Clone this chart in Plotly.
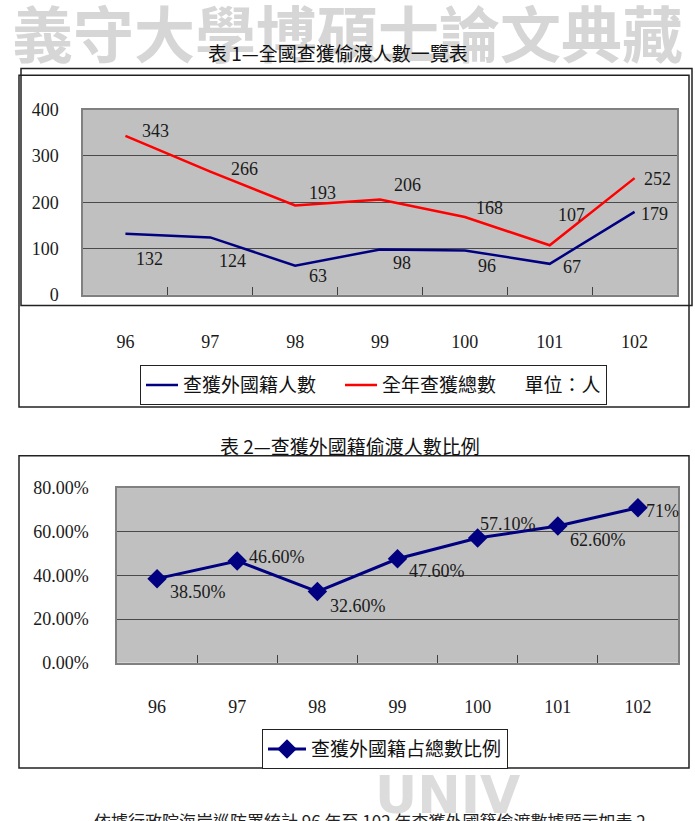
import plotly.graph_objects as go

# ---------------- data ----------------
years = ["96", "97", "98", "99", "100", "101", "102"]
foreign_count = [132, 124, 63, 98, 96, 67, 179]
total_count = [343, 266, 193, 206, 168, 107, 252]
ratio = [0.385, 0.466, 0.326, 0.476, 0.571, 0.626, 0.71]
ratio_labels = ["38.50%", "46.60%", "32.60%", "47.60%", "57.10%", "62.60%", "71%"]

title1 = "表 1—全國查獲偷渡人數一覽表"
title2 = "表 2—查獲外國籍偷渡人數比例"
name_foreign = "查獲外國籍人數\u3000"
name_total = "全年查獲總數\u3000\u2002單位：人"
name_ratio = "查獲外國籍占總數比例"
watermark = "義守大學博碩士論文典藏"
watermark2 = "UNIV"
body_text = "依據行政院海岸巡防署統計 96 年至 102 年查獲外國籍偷渡數據顯示如表 2"

# ---------------- styling ----------------
W, H = 695, 821
NAVY = "#000080"
RED = "#FF0000"
SERIF = "Liberation Serif"
CJK = "Noto Sans CJK TC"
LBL = "#1a1a1a"

def px(x):
    return x / W

def py(y):
    return 1 - y / H

# label offsets (screen px): (dx, dy) with dy positive downward
off_total = [(30, -5), (34, -3), (27, -12), (27, -14), (25, -9), (22, -30), (23, 1)]
off_foreign = [(24, 25), (22, 24), (23, 10), (22, 14), (22, 16), (22, 3), (20, 2)]
off_ratio = [(41, 13), (40, -4), (41, 14), (39, 12), (30, -14), (40, 14), (25, 3)]

fig = go.Figure()

fig.add_trace(go.Scatter(
    x=years, y=foreign_count, mode="lines", name=name_foreign,
    line=dict(color=NAVY, width=2.5), xaxis="x", yaxis="y", legend="legend",
))
fig.add_trace(go.Scatter(
    x=years, y=total_count, mode="lines", name=name_total,
    line=dict(color=RED, width=2.5), xaxis="x", yaxis="y", legend="legend",
))
fig.add_trace(go.Scatter(
    x=years, y=ratio, mode="lines+markers", name=name_ratio,
    line=dict(color=NAVY, width=3),
    marker=dict(symbol="diamond", size=15, color=NAVY),
    xaxis="x2", yaxis="y2", legend="legend2",
))

# page text (watermarks first so other text sits on top)
page = dict(xref="paper", yref="paper", showarrow=False, xanchor="center", yanchor="middle")
annotations = [
    dict(page, x=px(348), y=py(22), text=watermark,
         font=dict(family=CJK, size=61, color="#d6d6d6", weight="bold")),
    dict(page, x=px(448), y=py(805), text=watermark2,
         font=dict(family="DejaVu Sans", size=52, color="#dcdcdc", weight="bold")),
    dict(page, x=px(338), y=py(44), text=title1,
         font=dict(family=CJK, size=19, color="#111")),
    dict(page, x=px(350), y=py(446), text=title2,
         font=dict(family=CJK, size=19, color="#111")),
    dict(page, x=px(370), y=py(831), text=body_text,
         font=dict(family=CJK, size=17, color="#222")),
]

for ys, texts, offs, xr, yr in [
    (total_count, [str(v) for v in total_count], off_total, "x", "y"),
    (foreign_count, [str(v) for v in foreign_count], off_foreign, "x", "y"),
    (ratio, ratio_labels, off_ratio, "x2", "y2"),
]:
    for i, (yv, t, (dx, dy)) in enumerate(zip(ys, texts, offs)):
        annotations.append(dict(
            x=i, y=yv, xref=xr, yref=yr, text=t, showarrow=False,
            xanchor="center", yanchor="middle",
            xshift=dx, yshift=-dy, font=dict(family=SERIF, size=18, color=LBL),
        ))

# frames
box = dict(type="rect", xref="paper", yref="paper", line=dict(color="#222", width=1.5),
           fillcolor="rgba(0,0,0,0)")
shapes = [
    dict(box, x0=px(21), x1=px(692), y0=py(60), y1=py(303)),
    dict(box, x0=px(19), x1=px(689), y0=py(67), y1=py(407)),
    dict(box, x0=px(19), x1=px(689), y0=py(457), y1=py(777)),
]

tickfont = dict(family=SERIF, size=18, color=LBL)
xcommon = dict(type="category", tickson="boundaries", ticks="inside", ticklen=8,
               tickcolor="#404040", showgrid=False, showline=True, linecolor="#808080",
               linewidth=1.5, mirror=True, tickfont=tickfont, fixedrange=True,
               range=[-0.5, len(years) - 0.5], tickangle=0)
ycommon = dict(showgrid=True, gridcolor="#4a4a4a", gridwidth=1, zeroline=False,
               showline=True, linecolor="#808080", linewidth=1.5, mirror=True,
               ticks="", tickfont=tickfont, fixedrange=True)

legfont = dict(family=CJK, size=19, color="#111")
fig.update_layout(
    width=W, height=H, margin=dict(l=0, r=0, t=0, b=0),
    paper_bgcolor="white", plot_bgcolor="#C0C0C0",
    xaxis=dict(xcommon, domain=[px(83), px(677)], anchor="y", ticklabelstandoff=30),
    yaxis=dict(ycommon, domain=[py(292), py(102)], anchor="x", range=[0, 400], dtick=100,
               ticklabelstandoff=19),
    xaxis2=dict(xcommon, domain=[px(117), px(678)], anchor="y2", ticklabelstandoff=27),
    yaxis2=dict(ycommon, domain=[py(669), py(490)], anchor="x2", range=[0, 0.8], dtick=0.2,
                tickformat=".2%", ticklabelstandoff=23),
    legend=dict(orientation="h", x=px(140), y=py(364), xanchor="left", yanchor="top",
                bordercolor="#222", borderwidth=1, bgcolor="white", font=legfont,
                itemwidth=32),
    legend2=dict(orientation="h", x=px(262), y=py(737), xanchor="left", yanchor="top",
                 bordercolor="#222", borderwidth=1, bgcolor="white", font=legfont,
                 itemwidth=38),
    annotations=annotations,
    shapes=shapes,
    showlegend=True,
)

fig.write_html("out.html")
